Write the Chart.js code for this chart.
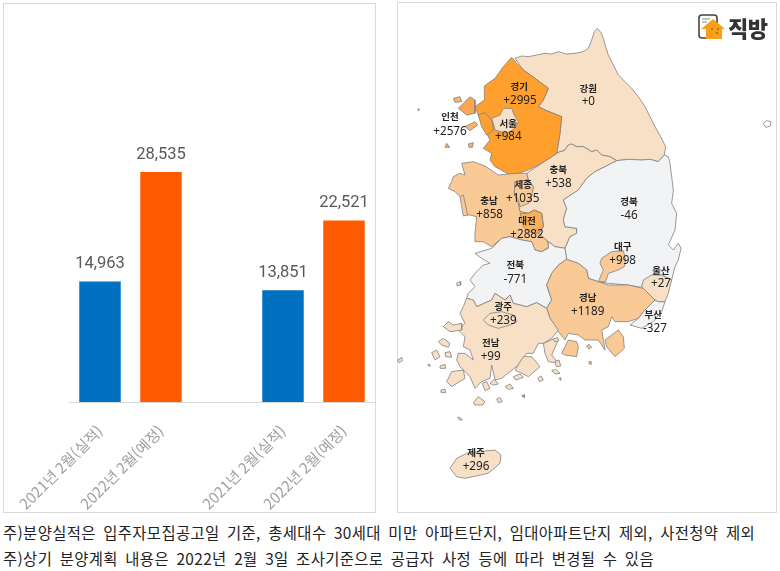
<!DOCTYPE html>
<html lang="ko">
<head>
<meta charset="utf-8">
<script src="https://cdn.jsdelivr.net/npm/chart.js@4"></script>
<style>
  html, body { margin: 0; padding: 0; background: #fff; }
  body { width: 780px; height: 571px; position: relative; overflow: hidden; font-family: "Noto Sans CJK KR", sans-serif; }
  .panel { position: absolute; border: 1px solid #d9d9d9; box-sizing: border-box; }
  #barPanel { left: 3px; top: 3px; width: 373px; height: 510px; }
  #mapPanel { left: 397px; top: 2px; width: 380px; height: 511px; }
  #barWrap { position: absolute; left: 0; top: 0; width: 376px; height: 515px; }
  #mapWrap { position: absolute; left: 395px; top: 0; width: 385px; height: 520px; }
  #logo { position: absolute; left: 698px; top: 14px; height: 26px; display: flex; align-items: center; gap: 2px; font-weight: 900; font-size: 22px; color: #333; letter-spacing: -0.5px; }
  .note { position: absolute; left: 3px; font-size: 15.4px; letter-spacing: 0.37px; color: #222; white-space: nowrap; word-spacing: 2.85px; line-height: 18px; }
</style>
</head>
<body>
<div class="panel" id="barPanel"></div>
<div class="panel" id="mapPanel"></div>
<div id="barWrap"><canvas id="barChart"></canvas></div>
<div id="mapWrap"><canvas id="mapChart"></canvas></div>
<div id="logo">
  <svg width="28" height="26" viewBox="0 0 28 26">
    <rect x="1" y="1" width="18" height="23" rx="3" fill="#fff" stroke="#444" stroke-width="1.6"/>
    <path d="M4 5h8M4 8h5" stroke="#888" stroke-width="1.2"/>
    <path d="M15 5 L27 15 L24 15 L24 25 L8 25 L8 15 L3 15 Z" fill="#f9a01b"/>
    <path d="M13 15h2M19 15h2M18 19h2" stroke="#7a4a00" stroke-width="1.2"/>
  </svg>
  <span>직방</span>
</div>
<div class="note" style="top:523px">주)분양실적은 입주자모집공고일 기준, 총세대수 30세대 미만 아파트단지, 임대아파트단지 제외, 사전청약 제외</div>
<div class="note" style="top:549px">주)상기 분양계획 내용은 2022년 2월 3일 조사기준으로 공급자 사정 등에 따라 변경될 수 있음</div>

<script>
// === bar data ===
const barCategories = ["2021년 2월(실적)", "2022년 2월(예정)", "", "2021년 2월(실적)", "2022년 2월(예정)"];
const barValues = [14963, 28535, null, 13851, 22521];

// === map data (map grid units, y grows southward) ===
const regionNames = ["경기", "강원", "인천", "서울", "충북", "세종", "충남", "경북", "대전", "대구", "전북", "울산", "경남", "광주", "부산", "전남", "제주"];
const regionDeltas = ["+2995", "+0", "+2576", "+984", "+538", "+1035", "+858", "-46", "+2882", "+998", "-771", "+27", "+1189", "+239", "-327", "+99", "+296"];
const nameX = [373, 580, 165, 340, 490, 385, 282, 702, 396, 683, 361, 798, 578, 325, 775, 287, 243];
const nameY = [258, 264, 350, 369, 508, 553, 601, 604, 662, 740, 794, 810, 892, 920, 943, 1028, 1357];
const deltaX = [375, 580, 165, 340, 490, 383, 284, 702, 396, 683, 361, 798, 578, 325, 780, 287, 243];
const deltaY = [301, 306, 394, 411, 551, 595, 645, 647, 705, 782, 838, 852, 935, 963, 987, 1071, 1400];

const gangwon = [[360,175],[380,168],[400,170],[425,165],[450,160],[470,162],[490,155],[515,162],[540,160],[565,155],[580,145],[590,120],[598,95],[607,85],[618,98],[625,115],[632,140],[640,165],[655,195],[670,225],[690,245],[710,265],[730,290],[750,320],[765,350],[780,380],[797,410],[812,440],[808,465],[790,485],[765,478],[740,480],[700,478],[665,482],[645,470],[620,465],[605,450],[590,455],[565,440],[545,440],[530,432],[520,435],[508,452],[495,455],[485,460],[490,430],[495,400],[500,350],[450,330],[430,320],[445,300],[460,265],[440,250],[420,235],[385,210]];
const gyeonggi = [[350,172],[365,190],[385,210],[420,235],[440,250],[460,265],[445,300],[430,320],[450,330],[500,350],[495,400],[485,460],[470,470],[440,490],[400,510],[370,520],[340,522],[300,500],[285,480],[290,460],[265,445],[285,420],[275,400],[260,365],[250,345],[240,320],[268,300],[268,258],[300,235],[325,200]];
const incheon = [[250,345],[270,338],[290,360],[295,390],[275,405],[260,380]];
const ganghwa = [[205,310],[225,290],[240,300],[240,340],[215,345],[190,325]];
const jumun = [[175,295],[195,290],[200,305],[180,307]];
const yeongjong = [[210,380],[240,365],[248,375],[225,392]];
const deokjeok = [[150,442],[155,430],[164,442]];
const daebu = [[220,432],[235,428],[232,442],[222,442]];
const baengnyeong = [[69,326],[74,328],[71,332]];
const ulleung = [[1105,370],[1115,362],[1128,365],[1126,378],[1112,382]];
const seoul = [[290,355],[315,345],[325,325],[350,325],[358,345],[370,365],[360,385],[335,400],[300,390],[295,370]];
const chungbuk = [[395,520],[440,490],[470,470],[485,460],[495,455],[508,452],[520,435],[530,432],[545,440],[565,440],[590,455],[605,450],[620,465],[645,470],[665,482],[630,500],[600,515],[575,535],[550,570],[520,590],[505,600],[515,625],[505,660],[510,680],[545,685],[545,700],[525,710],[510,745],[480,740],[460,725],[430,700],[445,680],[440,640],[418,630],[400,640],[375,635],[370,610],[400,610],[415,560],[400,540]];
const chungnam = [[235,485],[270,498],[310,525],[340,522],[370,520],[395,520],[400,540],[360,545],[358,580],[370,610],[375,635],[400,640],[418,630],[440,640],[445,680],[430,700],[455,720],[462,740],[440,755],[420,750],[410,725],[380,720],[345,710],[320,715],[290,740],[265,725],[240,725],[240,700],[245,650],[225,645],[215,645],[205,610],[195,590],[180,575],[160,565],[170,545],[175,530],[195,520],[210,525],[200,490]];
const sejong = [[360,545],[400,540],[415,560],[410,590],[400,610],[375,620],[370,600],[358,580]];
const daejeon = [[375,640],[400,640],[418,630],[440,640],[445,680],[430,700],[400,695],[385,680]];
const anmyeon = [[195,590],[205,585],[218,645],[205,648]];
const gyeongbuk = [[665,482],[700,478],[740,480],[765,478],[790,485],[808,465],[820,470],[825,490],[830,530],[835,570],[830,610],[845,640],[840,690],[820,735],[835,750],[850,730],[858,745],[850,780],[840,800],[830,840],[800,825],[770,825],[745,850],[738,862],[700,855],[640,850],[610,845],[580,835],[575,810],[550,790],[515,778],[510,745],[525,710],[545,700],[545,685],[510,680],[505,660],[515,625],[505,600],[520,590],[550,570],[575,535],[600,515],[630,500]];
const daegu = [[620,775],[650,755],[685,752],[692,780],[688,800],[670,810],[640,820],[632,845],[610,845],[625,810],[615,790]];
const ulsan = [[740,860],[745,840],[770,825],[800,825],[830,840],[820,880],[810,905],[790,905],[780,900]];
const busan = [[780,900],[790,905],[810,905],[800,935],[775,965],[740,985],[705,975],[730,955],[745,935]];
const jeonbuk = [[240,760],[290,745],[320,715],[345,710],[380,720],[410,725],[420,750],[440,755],[460,745],[460,725],[480,740],[510,745],[515,778],[490,795],[470,820],[455,855],[470,900],[455,925],[425,908],[395,920],[355,910],[345,885],[330,900],[300,880],[290,900],[245,920],[235,900],[215,895],[220,880],[240,860],[225,840],[240,820],[265,795],[285,790],[260,775]];
const gyeongnam = [[515,778],[550,790],[575,810],[580,835],[610,845],[640,855],[700,855],[745,865],[780,900],[745,935],[730,955],[700,965],[660,965],[650,950],[640,980],[620,990],[630,1050],[610,1020],[570,1020],[550,1005],[520,1000],[510,1020],[490,995],[465,955],[455,925],[470,900],[455,855],[470,820],[490,795]];
const namhae = [[500,1060],[520,1020],[545,1025],[550,1040],[545,1070],[510,1065]];
const geoje = [[630,1020],[670,990],[685,1010],[688,1045],[660,1070],[635,1040]];
const saryang = [[575,1038],[582,1033],[590,1042],[582,1047]];
const yokji = [[582,1084],[590,1086],[588,1094],[582,1091]];
const jeonnam = [[215,895],[235,900],[245,920],[290,900],[300,880],[330,900],[345,885],[355,910],[395,920],[425,908],[455,925],[465,955],[490,990],[470,1015],[445,1030],[430,1030],[415,1060],[395,1060],[370,1095],[345,1115],[320,1135],[300,1140],[290,1095],[285,1135],[260,1145],[240,1165],[225,1130],[195,1100],[185,1080],[190,1060],[210,1060],[235,1080],[225,1050],[205,1040],[210,1010],[190,990],[210,970],[195,940],[205,920]];
const gwangju = [[265,960],[285,940],[320,935],[355,945],[365,965],[345,975],[310,985],[280,975]];
const goheung = [[360,1110],[385,1070],[410,1070],[435,1100],[400,1130],[380,1120]];
const yeosu = [[445,1030],[480,1015],[490,1020],[470,1065],[490,1090],[460,1085],[450,1060]];
const wando = [[155,1145],[170,1115],[205,1110],[210,1135],[170,1160]];
const southIslands = [
  [[185,850],[195,845],[197,855],[187,858]],
  [[145,980],[160,965],[175,975],[200,970],[200,990],[165,995]],
  [[130,1025],[145,1015],[165,1030],[160,1042],[140,1035]],
  [[110,1058],[125,1050],[135,1070],[120,1080]],
  [[150,1058],[165,1055],[170,1072],[152,1070]],
  [[135,1098],[150,1093],[152,1105],[136,1105]],
  [[98,1094],[105,1094],[104,1100]],
  [[138,1170],[150,1168],[152,1178],[140,1178]],
  [[235,1208],[250,1190],[270,1205],[262,1215],[240,1215]],
  [[305,1198],[315,1192],[322,1205],[310,1208]],
  [[380,1187],[388,1184],[388,1193]],
  [[188,1252],[195,1252],[202,1260],[193,1260]],
  [[8,1080],[20,1072],[22,1082],[12,1088]],
  [[262,1150],[275,1145],[285,1165],[270,1172]],
  [[285,1150],[298,1138],[310,1152],[295,1155]],
  [[330,1160],[345,1152],[355,1165],[340,1168]],
  [[355,1130],[375,1122],[385,1132],[362,1140]],
  [[428,1135],[438,1128],[445,1140],[434,1145]],
  [[470,1112],[482,1108],[495,1120],[480,1122]],
  [[480,1085],[492,1080],[497,1098],[484,1100]],
  [[492,1135],[498,1133],[497,1142]],
  [[475,1018],[488,1012],[491,1022],[480,1026]]
];
const jeju = [[165,1405],[185,1375],[215,1360],[250,1355],[300,1350],[318,1365],[315,1390],[280,1420],[210,1435],[185,1430]];

// === map fills, first one painted lowest ===
const TAN = "#f7e0c5", GREY = "#f2f3f5", ORANGE = "#ff9f2e", PEACH = "#f9ca96", LINE = "#808080";
const mapLayers = [
  [gangwon, TAN], [chungbuk, TAN], [gyeonggi, ORANGE], [incheon, ORANGE], [ganghwa, "#f9a64e"], [jumun, "#f9b46a"],
  [yeongjong, "#f9b46a"], [deokjeok, "#f9b46a"], [daebu, "#f9b46a"], [baengnyeong, "#f9b46a"], [ulleung, "#ffffff"],
  [seoul, TAN], [chungnam, PEACH], [anmyeon, PEACH], [sejong, PEACH], [daejeon, "#fbae5c"],
  [gyeongbuk, GREY], [jeonbuk, GREY], [busan, GREY], [ulsan, TAN], [gyeongnam, PEACH], [daegu, PEACH],
  [namhae, PEACH], [geoje, PEACH], [saryang, PEACH], [yokji, PEACH],
  [jeonnam, TAN], [gwangju, TAN], [goheung, TAN], [yeosu, TAN], [wando, TAN], [jeju, TAN],
  ...southIslands.map(s => [s, TAN])
];

// bar value labels above each bar
const barLabelPlugin = {
  id: "barLabels",
  afterDatasetsDraw(chart) {
    const { ctx, scales } = chart;
    ctx.save();
    ctx.font = "16.5px Roboto, sans-serif";
    ctx.fillStyle = "#595959";
    ctx.textAlign = "center";
    ctx.textBaseline = "bottom";
    barValues.forEach((v, i) => {
      if (v === null) return;
      ctx.fillText(v.toLocaleString("en-US"), scales.x.getPixelForValue(i), scales.y.getPixelForValue(v) - 9);
    });
    ctx.restore();
  },
};

// region names and deltas on the map
const mapLabelPlugin = {
  id: "mapLabels",
  afterDatasetsDraw(chart) {
    const { ctx, scales } = chart;
    ctx.save();
    ctx.textAlign = "center";
    ctx.textBaseline = "middle";
    ctx.fillStyle = "#222";
    regionNames.forEach((name, i) => {
      ctx.font = "600 9.5px 'Noto Sans CJK KR', sans-serif";
      ctx.fillText(name, scales.x.getPixelForValue(nameX[i]), scales.y.getPixelForValue(nameY[i]));
      ctx.font = "11.7px 'Noto Sans', sans-serif";
      ctx.fillText(regionDeltas[i], scales.x.getPixelForValue(deltaX[i]), scales.y.getPixelForValue(deltaY[i]));
    });
    ctx.restore();
  },
};

new Chart(document.getElementById("barChart"), {
  type: "bar",
  data: {
    labels: barCategories,
    datasets: [{
      data: barValues,
      backgroundColor: ["#0070c0", "#ff5a00", "#fff", "#0070c0", "#ff5a00"],
      barPercentage: 0.68,
      categoryPercentage: 1,
    }],
  },
  options: {
    responsive: true,
    maintainAspectRatio: false,
    animation: false,
    layout: { padding: { left: 69.5, right: 1.5, top: 80, bottom: 0 } },
    plugins: { legend: { display: false }, tooltip: { enabled: false } },
    scales: {
      x: {
        grid: { display: false },
        border: { color: "#d9d9d9" },
        afterFit(s) { s.height = 113; s.paddingLeft = 0; s.paddingRight = 0; },
        ticks: {
          autoSkip: false,
          minRotation: 45,
          maxRotation: 45,
          padding: 12,
          color: "#a0a0a0",
          font: { family: "'Noto Sans CJK KR', sans-serif", size: 15 },
        },
      },
      y: { display: false, min: 0, max: 39950 },
    },
  },
  plugins: [barLabelPlugin],
});

new Chart(document.getElementById("mapChart"), {
  type: "scatter",
  data: {
    // last dataset is painted first, so reverse the layer list
    datasets: mapLayers.slice().reverse().map(([outline, color]) => ({
      data: outline.concat([outline[0]]).map(([x, y]) => ({ x, y })),
      showLine: true,
      fill: "shape",
      backgroundColor: color,
      borderColor: LINE,
      borderWidth: 0.8,
      pointRadius: 0,
      tension: 0,
    })),
  },
  options: {
    responsive: true,
    maintainAspectRatio: false,
    animation: false,
    layout: { padding: 0 },
    plugins: { legend: { display: false }, tooltip: { enabled: false } },
    scales: {
      x: { display: false, type: "linear", min: 0, max: 1155 },
      y: { display: false, type: "linear", min: 0, max: 1560, reverse: true },
    },
  },
  plugins: [mapLabelPlugin],
});
</script>
</body>
</html>
